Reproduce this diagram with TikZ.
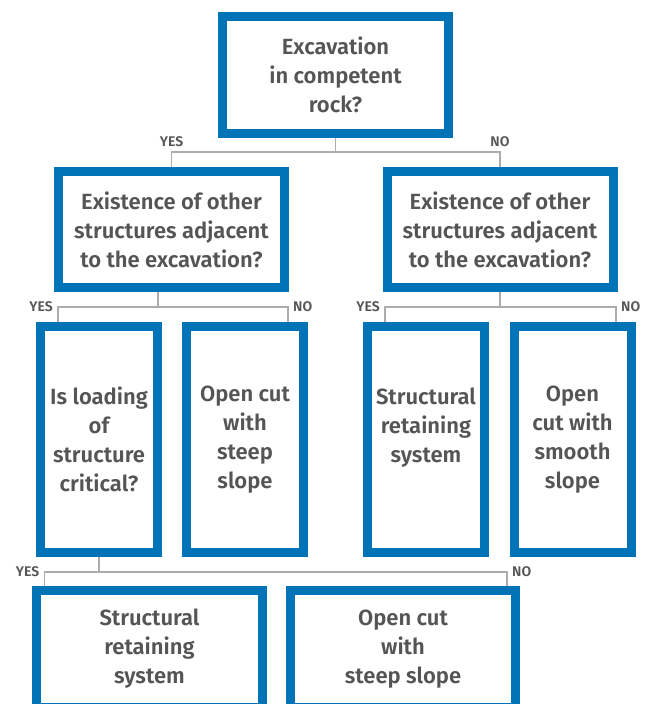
\documentclass[tikz,border=0pt]{standalone}
\usepackage{fontspec}
\setmainfont{Fira Sans}[BoldFont={Fira Sans SemiBold}]
\usetikzlibrary{positioning}
\definecolor{boxblue}{RGB}{0,116,183}
\definecolor{txtgray}{RGB}{85,85,85}
\definecolor{linkgray}{RGB}{172,172,172}

\begin{document}
\begin{tikzpicture}[x=1pt,y=-1pt,
  box/.style={draw=boxblue,line width=9pt,fill=white,inner sep=0pt,align=center,text=txtgray,font=\bfseries\fontsize{22}{29}\selectfont},
  wide/.style={box,minimum width=226,minimum height=117},
  tall/.style={box,minimum width=117,minimum height=226},
  tag/.style={inner sep=0pt,text=txtgray,font=\bfseries\fontsize{14}{16}\selectfont},
  link/.style={draw=linkgray,line width=1.5pt}]
\useasboundingbox (0,0) rectangle (649,704);
\clip (0,0) rectangle (649,704);

\node[wide] (rock) at (335.5,75) {Excavation\\in competent\\rock?};
\node[wide,minimum height=116] (adjL) at (171.5,229.5) {Existence of other\\structures adjacent\\to the excavation?};
\node[wide,minimum height=116] (adjR) at (500,229.5) {Existence of other\\structures adjacent\\to the excavation?};
\node[tall] (load) at (99,439.5) {Is loading\\of\\structure\\critical?};
\node[tall] (steepA) at (245,439.5) {Open cut\\with\\steep\\slope};
\node[tall] (retainA) at (426,439.5) {Structural\\retaining\\system\\\mbox{}};
\node[tall] (smooth) at (572.5,439.5) {Open\\cut with\\smooth\\slope};
\node[wide] (retainB) at (149.5,649) {Structural\\retaining\\system};
\node[wide,minimum width=225] (steepB) at (403,649) {Open cut\\with\\steep slope};

\coordinate (jRock) at (335.5,152);
\draw[link] (rock.south) -- (jRock);
\draw[link] (adjL.north) |- (jRock) -| (adjR.north);
\node[tag,above=5pt] (yes1) at (adjL.north |- jRock) {YES};
\node[tag,above=5pt] (no1) at (adjR.north |- jRock) {NO};

\coordinate (jAdjL) at (158,307);
\coordinate (yAdjL) at (58,307);
\coordinate (nAdjL) at (288,307);
\draw[link] (adjL.south -| jAdjL) -- (jAdjL);
\draw[link] (load.north -| yAdjL) -- (yAdjL) -- (nAdjL) -- (steepA.north -| nAdjL);
\node[tag,left=5pt] (yes2) at (yAdjL) {YES};
\node[tag,right=5pt] (no2) at (nAdjL) {NO};

\coordinate (jAdjR) at (500,307);
\coordinate (yAdjR) at (385,307);
\coordinate (nAdjR) at (616,307);
\draw[link] (adjR.south -| jAdjR) -- (jAdjR);
\draw[link] (retainA.north -| yAdjR) -- (yAdjR) -- (nAdjR) -- (smooth.north -| nAdjR);
\node[tag,left=5pt] (yes3) at (yAdjR) {YES};
\node[tag,right=5pt] (no3) at (nAdjR) {NO};

\coordinate (jLoad) at (99,572);
\coordinate (yLoad) at (44.5,572);
\coordinate (nLoad) at (507,572);
\draw[link] (load.south) -- (jLoad);
\draw[link] (retainB.north -| yLoad) -- (yLoad) -- (nLoad) -- (steepB.north -| nLoad);
\node[tag,left=5pt] (yes4) at (yLoad) {YES};
\node[tag,right=5pt] (no4) at (nLoad) {NO};
\end{tikzpicture}
\end{document}
